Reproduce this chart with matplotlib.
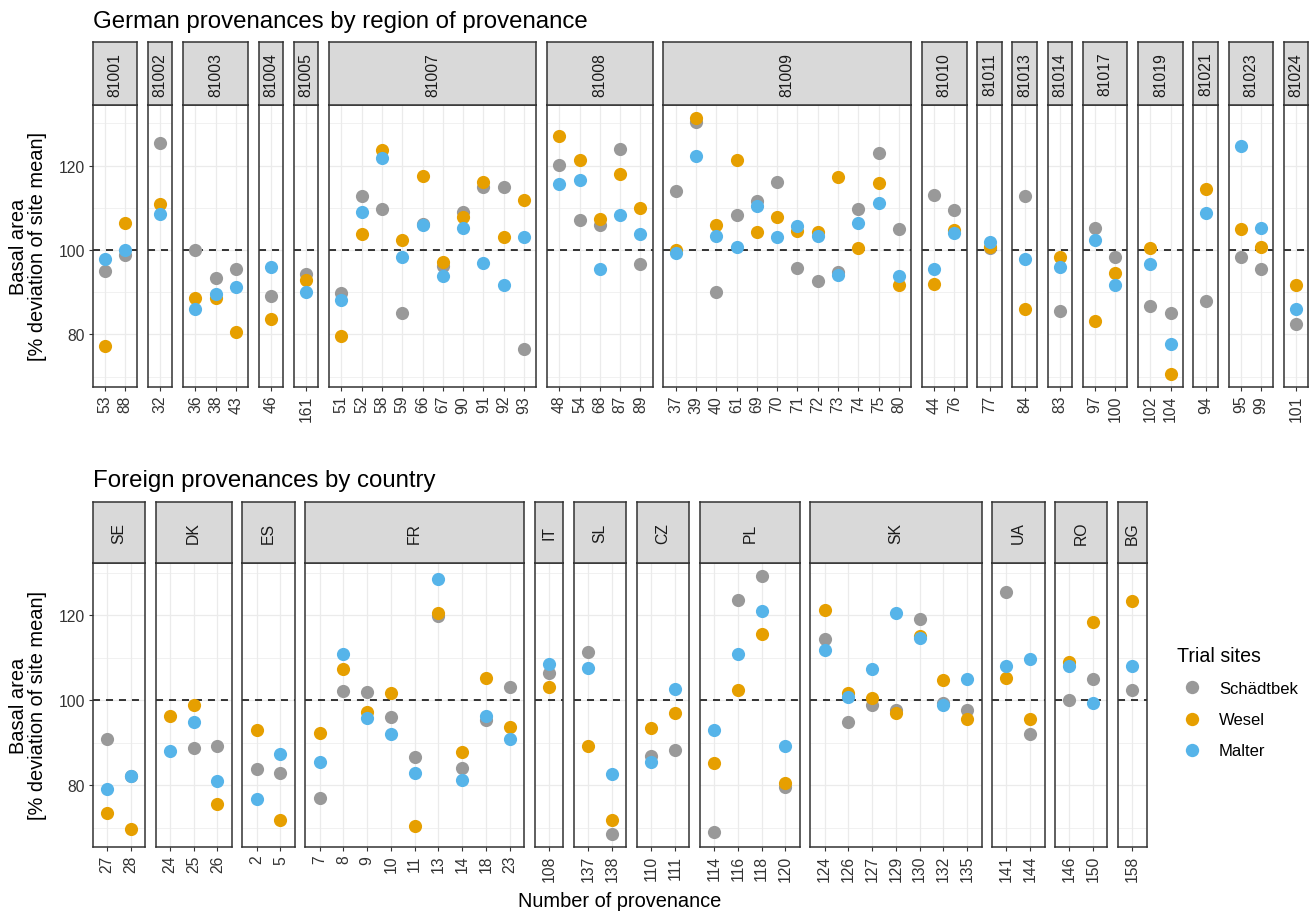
import numpy as np
import matplotlib.pyplot as plt
from matplotlib.lines import Line2D

plt.rcParams['font.family'] = ['Liberation Sans', 'DejaVu Sans']

nan = np.nan

site_names = ['Schädtbek', 'Wesel', 'Malter']
site_colors = ['#999999', '#E69F00', '#56B4E9']

# German provenances, grouped by region of provenance
de_groups = ['81001', '81002', '81003', '81004', '81005', '81007', '81008', '81009',
             '81010', '81011', '81013', '81014', '81017', '81019', '81021', '81023', '81024']
de_provs = [[53, 88], [32], [36, 38, 43], [46], [161],
            [51, 52, 58, 59, 66, 67, 90, 91, 92, 93],
            [48, 54, 68, 87, 89],
            [37, 39, 40, 61, 69, 70, 71, 72, 73, 74, 75, 80],
            [44, 76], [77], [84], [83], [97, 100], [102, 104], [94], [95, 99], [101]]
de_schaedtbek = [[95.1, 98.7], [125.3], [100.0, 93.4, 95.5], [89.2], [94.2],
                 [89.8, 112.8, 109.8, 85.0, 106.1, 96.3, 109.1, 115.0, 115.0, 76.6],
                 [120.1, 107.0, 105.8, 123.8, 96.6],
                 [114.0, 130.4, 90.1, 108.3, 111.5, 116.2, 95.7, 92.6, 94.7, 109.8, 122.9, 105.0],
                 [113.1, 109.5], [100.5], [112.8], [85.5], [105.3, 98.3], [86.8, 85.0],
                 [87.9], [98.4, 95.4], [82.4]]
de_wesel = [[77.2, 106.4], [110.8], [88.7, 88.7, 80.5], [83.7], [92.8],
            [79.5, 103.8, 123.7, 102.4, 117.6, 97.2, 107.7, 116.0, 103.1, 111.9],
            [127.0, 121.4, 107.4, 118.1, 110.0],
            [100.1, 131.3, 106.0, 121.3, 104.2, 107.7, 104.6, 104.2, 117.4, 100.5, 115.8, 91.6],
            [92.0, 104.8], [100.7], [86.1], [98.3], [83.1, 94.5], [100.5, 70.5],
            [114.5], [105.0, 100.6], [91.6]]
de_malter = [[97.9, 100.0], [108.6], [85.9, 89.6, 91.3], [96.0], [90.0],
             [88.1, 109.1, 121.7, 98.3, 106.0, 93.8, 105.2, 96.8, 91.6, 103.1],
             [115.7, 116.5, 95.5, 108.2, 103.8],
             [99.3, 122.3, 103.2, 100.7, 110.5, 103.1, 105.7, 103.4, 94.1, 106.4, 111.2, 93.8],
             [95.6, 104.0], [102.0], [97.9], [95.9], [102.3, 91.7], [96.7, 77.6],
             [108.8], [124.6, 105.3], [86.1]]

# foreign provenances, grouped by country
fo_groups = ['SE', 'DK', 'ES', 'FR', 'IT', 'SL', 'CZ', 'PL', 'SK', 'UA', 'RO', 'BG']
fo_provs = [[27, 28], [24, 25, 26], [2, 5], [7, 8, 9, 10, 11, 13, 14, 18, 23], [108],
            [137, 138], [110, 111], [114, 116, 118, 120],
            [124, 126, 127, 129, 130, 132, 135], [141, 144], [146, 150], [158]]
fo_schaedtbek = [[90.8, 82.1], [nan, 88.8, 89.2], [83.8, 82.9],
                 [77.0, 102.1, 102.0, 96.1, 86.7, 119.7, 84.2, 95.3, 103.1], [106.5],
                 [111.3, 68.5], [87.0, 88.2], [69.1, 123.5, 129.2, 79.7],
                 [114.5, 94.8, 98.8, 97.7, 119.2, 99.4, 97.7], [125.5, 92.0],
                 [100.0, 104.9], [102.3]]
fo_wesel = [[73.6, 69.8], [96.2, 98.9, 75.7], [92.9, 71.8],
            [92.4, 107.4, 97.2, 101.8, 70.5, 120.6, 87.8, 105.3, 93.8], [103.0],
            [89.2, 71.8], [93.4, 97.1], [85.2, 102.5, 115.5, 80.5],
            [121.1, 101.6, 100.6, 97.0, 115.2, 104.8, 95.5], [105.3, 95.7],
            [108.9, 118.4], [123.2]]
fo_malter = [[79.1, 82.3], [88.0, 94.8, 81.0], [76.8, 87.3],
             [85.6, 110.9, 95.9, 92.1, 82.9, 128.5, 81.3, 96.3, 90.8], [108.5],
             [107.6, 82.7], [85.5, 102.7], [92.9, 110.9, 121.0, 89.3],
             [111.9, 100.8, 107.4, 120.4, 114.6, 98.9, 105.1], [108.0, 109.6],
             [108.1, 99.4], [108.1]]

W, H = 1314, 912
fig = plt.figure(figsize=(W / 100, H / 100), dpi=100)

BORDER = '#333333'
GRID = '#EBEBEB'
TICKTXT = '#333333'


def draw_row(groups, provs, sites, left, right, strip_top, panel_top, panel_bottom):
    gap = 10.7
    counts = [len(p) for p in provs]
    unit = (right - left - gap * (len(groups) - 1)) / sum(n + 0.2 for n in counts)
    allv = np.concatenate([np.array(v, float) for s in sites for v in s])
    lo, hi = np.nanmin(allv), np.nanmax(allv)
    pad = 0.05 * (hi - lo)
    x = left
    for i, g in enumerate(groups):
        n = counts[i]
        w = unit * (n + 0.2)
        ax = fig.add_axes([x / W, 1 - panel_bottom / H, w / W, (panel_bottom - panel_top) / H])
        ax.set_xlim(-0.6, n - 0.4)
        ax.set_ylim(lo - pad, hi + pad)
        ax.set_xticks(np.arange(n))
        ax.set_xticklabels([str(p) for p in provs[i]], rotation=90, fontsize=11.3, color=TICKTXT)
        ax.set_yticks([80, 100, 120])
        ax.set_yticks([70, 90, 110, 130], minor=True)
        ax.tick_params(axis='both', which='major', length=2.9, width=0.8, color=BORDER, pad=2.5)
        ax.tick_params(axis='y', which='minor', length=0)
        ax.tick_params(axis='y', labelsize=11.3, labelcolor=TICKTXT)
        if i > 0:
            ax.tick_params(axis='y', which='major', length=0, labelleft=False)
        ax.grid(which='major', color=GRID, lw=0.9, zorder=0)
        ax.grid(which='minor', axis='y', color=GRID, lw=0.5, zorder=0)
        ax.set_axisbelow(True)
        for sp in ax.spines.values():
            sp.set_color(BORDER)
            sp.set_linewidth(1.1)
        ax.axhline(100, color='black', lw=1.1, ls=(0, (4.6, 3.9)), zorder=2)
        for vals, col in zip(sites, site_colors):
            ax.scatter(np.arange(n), vals[i], s=90, color=col, linewidths=0, zorder=3)

        sax = fig.add_axes([x / W, 1 - panel_top / H, w / W, (panel_top - strip_top) / H])
        sax.set_facecolor('#D9D9D9')
        sax.set_xticks([])
        sax.set_yticks([])
        for sp in sax.spines.values():
            sp.set_color(BORDER)
            sp.set_linewidth(1.1)
        sax.text(0.5, 0.5, g, rotation=90, ha='center', va='center', fontsize=11.3,
                 color='#1A1A1A', transform=sax.transAxes)
        x += w + gap


draw_row(de_groups, de_provs, [de_schaedtbek, de_wesel, de_malter],
         92.7, 1308.3, 43.3, 106.0, 388.3)
draw_row(fo_groups, fo_provs, [fo_schaedtbek, fo_wesel, fo_malter],
         92.7, 1146.7, 502.7, 564.0, 848.3)

fig.text(93 / W, 1 - 28 / H, 'German provenances by region of provenance', fontsize=17.3,
         va='baseline', ha='left')
fig.text(93 / W, 1 - 487 / H, 'Foreign provenances by country', fontsize=17.3,
         va='baseline', ha='left')

ylab = 'Basal area\n[% deviation of site mean]'
fig.text(28.5 / W, 1 - 247 / H, ylab, rotation=90, ha='center', va='center',
         fontsize=14.4, multialignment='center', linespacing=1.0)
fig.text(28.5 / W, 1 - 706 / H, ylab, rotation=90, ha='center', va='center',
         fontsize=14.4, multialignment='center', linespacing=1.0)
fig.text(619.7 / W, 1 - 907 / H, 'Number of provenance', fontsize=14.4,
         ha='center', va='baseline')

handles = [Line2D([], [], marker='o', ls='', color=c, markersize=9.6, markeredgewidth=0)
           for c in site_colors]
leg = fig.legend(handles, site_names, title='Trial sites', loc='upper left',
                 bbox_to_anchor=(1177 / W, 1 - 647 / H), frameon=False, fontsize=12,
                 title_fontsize=14.1, handlelength=1.85, handletextpad=0.67,
                 labelspacing=0.97, borderpad=0, borderaxespad=0, alignment='left')

fig.savefig('out.png', dpi=100)
